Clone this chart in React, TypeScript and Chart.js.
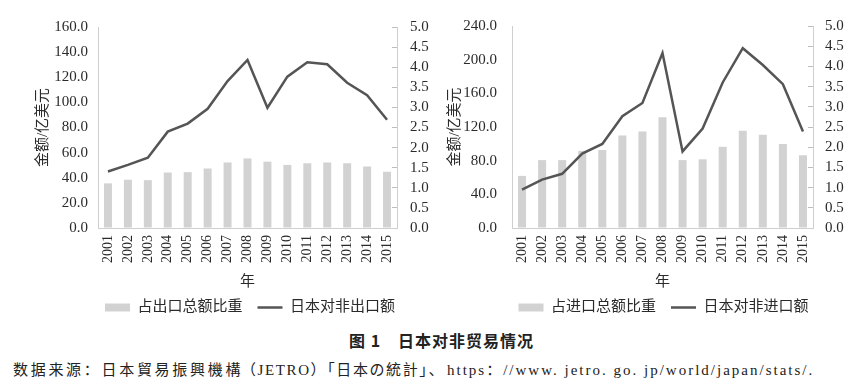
import React, { useEffect, useRef } from "react";
import { Chart, registerables } from "chart.js";

Chart.register(...registerables);

const years = ["2001", "2002", "2003", "2004", "2005", "2006", "2007", "2008", "2009", "2010", "2011", "2012", "2013", "2014", "2015"];
const exportAmount = [45.0, 50.2, 55.9, 76.7, 83.1, 94.9, 117.0, 133.8, 95.7, 120.5, 132.0, 130.3, 115.6, 105.8, 86.2];
const exportShare = [1.11, 1.2, 1.19, 1.38, 1.39, 1.48, 1.63, 1.73, 1.65, 1.57, 1.61, 1.63, 1.61, 1.53, 1.4];
const importAmount = [45.6, 57.5, 64.4, 88.4, 99.8, 132.8, 148.6, 207.8, 91.0, 118.2, 172.9, 213.6, 193.6, 170.9, 114.7];
const importShare = [1.29, 1.68, 1.68, 1.91, 1.93, 2.29, 2.39, 2.74, 1.68, 1.7, 2.01, 2.41, 2.31, 2.08, 1.8];

const leftTicksExport = { min: 0, max: 160, step: 20 };
const leftTicksImport = { min: 0, max: 240, step: 40 };
const shareTicks = { min: 0, max: 5, step: 0.5 };

const SERIF = "'Liberation Serif', 'Noto Sans CJK SC', serif";
const TEXT = "#2a2a2a";
const AXIS = "#cfcfcf";

type Cfg = {
  amounts: number[];
  shares: number[];
  shareLabel: string;
  amountLabel: string;
  leftTicks: { min: number; max: number; step: number };
  padLeft: number;
  leftW: number;
  rightW: number;
  leftPad: number;
  rightPad: number;
};

function TradeChart(props: Cfg & { style: React.CSSProperties; width: number; height: number }) {
  const ref = useRef<HTMLCanvasElement | null>(null);
  useEffect(() => {
    if (!ref.current) return;
    const c = props;
    const chart = new Chart(ref.current, {
      type: "bar",
      data: {
        labels: years,
        datasets: [
          {
            type: "bar",
            label: c.shareLabel,
            data: c.shares,
            yAxisID: "y1",
            backgroundColor: "#d2d2d2",
            borderWidth: 0,
            barPercentage: 0.4,
            categoryPercentage: 1,
            order: 2,
            pointStyle: "rect",
          } as any,
          {
            type: "line",
            label: c.amountLabel,
            data: c.amounts,
            yAxisID: "y",
            borderColor: "#555555",
            backgroundColor: "#555555",
            borderWidth: 2.5,
            pointRadius: 0,
            tension: 0,
            order: 1,
            pointStyle: "line",
          } as any,
        ],
      },
      options: {
        animation: false,
        responsive: false,
        maintainAspectRatio: false,
        layout: { padding: { left: c.padLeft, right: 0, top: 24, bottom: 0 } },
        plugins: {
          tooltip: { enabled: false },
          legend: {
            position: "bottom",
            fullSize: true,
            labels: {
              usePointStyle: true,
              pointStyleWidth: 25,
              boxHeight: 8,
              padding: 15,
              color: TEXT,
              font: { family: SERIF, size: 15 },
              sort: (a: any, b: any) => a.datasetIndex - b.datasetIndex,
            },
          },
        },
        scales: {
          x: {
            grid: { display: true, drawOnChartArea: false, drawTicks: false },
            border: { display: true, color: AXIS },
            ticks: {
              minRotation: 90,
              maxRotation: 90,
              padding: 7,
              color: TEXT,
              font: { family: SERIF, size: 14 },
            },
            title: {
              display: true,
              text: "年",
              color: TEXT,
              font: { family: SERIF, size: 15, lineHeight: 1 },
              padding: { top: 0, bottom: -5 },
            },
            afterFit: (s: any) => {
              s.height = 57;
            },
          },
          y: {
            position: "left",
            min: c.leftTicks.min,
            max: c.leftTicks.max,
            grid: { drawOnChartArea: false, drawTicks: false },
            border: { display: true, color: AXIS },
            ticks: {
              stepSize: c.leftTicks.step,
              autoSkip: false,
              padding: c.leftPad,
              color: TEXT,
              font: { family: SERIF, size: 15 },
              callback: (v: any) => Number(v).toFixed(1),
            },
            title: {
              display: true,
              text: "金额/亿美元",
              color: TEXT,
              font: { family: SERIF, size: 15 },
            },
            afterFit: (s: any) => {
              s.width = c.leftW;
            },
          },
          y1: {
            position: "right",
            min: shareTicks.min,
            max: shareTicks.max,
            grid: { drawOnChartArea: false, drawTicks: true, tickLength: -5, color: "#bdbdbd" },
            border: { display: true, color: AXIS },
            ticks: {
              stepSize: shareTicks.step,
              autoSkip: false,
              padding: c.rightPad,
              color: TEXT,
              font: { family: SERIF, size: 15 },
              callback: (v: any) => Number(v).toFixed(1),
            },
            afterFit: (s: any) => {
              s.width = c.rightW;
            },
          },
        },
      } as any,
    });
    return () => chart.destroy();
  }, []);
  return <canvas ref={ref} width={props.width} height={props.height} style={props.style} />;
}

const srcStyle: React.CSSProperties = {
  position: "absolute",
  top: 360,
  fontFamily: SERIF,
  fontSize: 15,
  lineHeight: "20px",
  color: "#222",
  whiteSpace: "pre",
};

export default function App() {
  return (
    <div style={{ position: "absolute", left: 0, top: 0, width: 861, height: 388, background: "#fff", overflow: "hidden" }}>
      <TradeChart
        width={470}
        height={325}
        style={{ position: "absolute", left: 0, top: 0, width: 470, height: 325 }}
        amounts={exportAmount}
        shares={exportShare}
        shareLabel="占出口总额比重"
        amountLabel="日本对非出口额"
        leftTicks={leftTicksExport}
        padLeft={30}
        leftW={68}
        rightW={73}
        leftPad={10}
        rightPad={18}
      />
      <TradeChart
        width={450}
        height={325}
        style={{ position: "absolute", left: 435, top: 0, width: 450, height: 325 }}
        amounts={importAmount}
        shares={importShare}
        shareLabel="占进口总额比重"
        amountLabel="日本对非进口额"
        leftTicks={leftTicksImport}
        padLeft={7}
        leftW={70}
        rightW={72}
        leftPad={15}
        rightPad={17}
      />
      <div
        style={{
          position: "absolute",
          left: 349,
          top: 330,
          fontFamily: "'Noto Sans CJK SC', sans-serif",
          fontWeight: 700,
          fontSize: 16,
          letterSpacing: 1,
          lineHeight: "20px",
          color: "#222",
          whiteSpace: "pre",
        }}
      >
        {"图 1　日本对非贸易情况"}
      </div>
      <div style={{ ...srcStyle, left: 13, letterSpacing: 2.7 }}>{"数据来源：日本貿易振興機構"}</div>
      <div style={{ ...srcStyle, left: 241, letterSpacing: 1.6 }}>{"（JETRO）「日本の統計」、"}</div>
      <div style={{ ...srcStyle, left: 447, letterSpacing: 2 }}>{"https：//www. jetro. go. jp/world/japan/stats/."}</div>
    </div>
  );
}
